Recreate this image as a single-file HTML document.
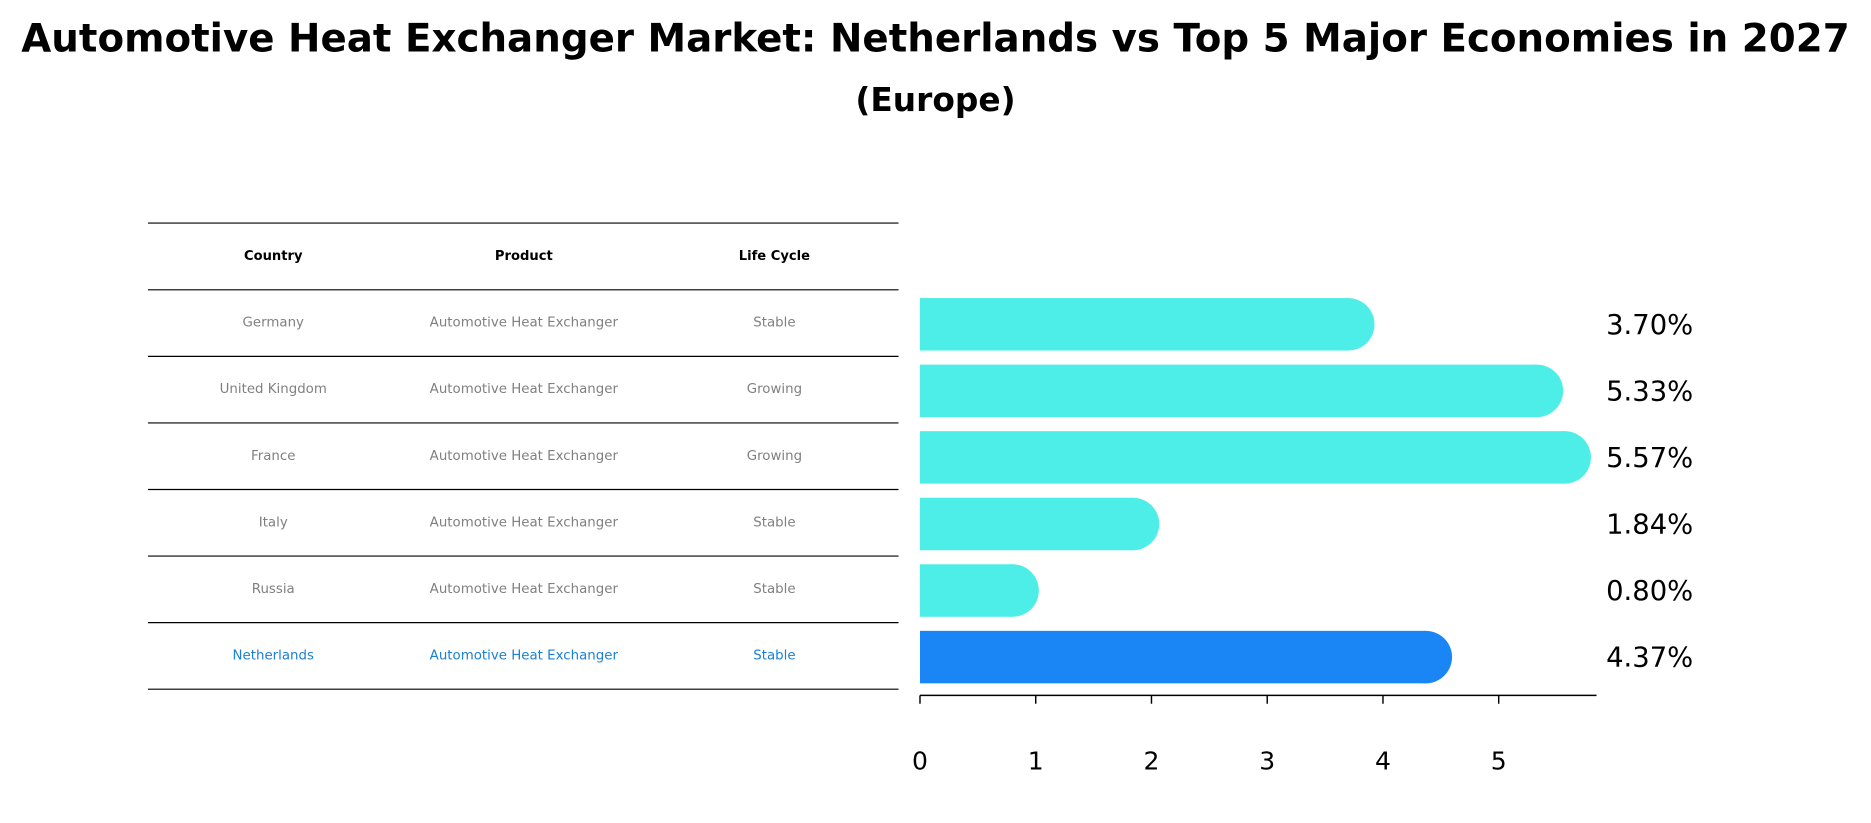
<!DOCTYPE html>
<html><head><meta charset="utf-8">
<style>html,body{margin:0;padding:0;background:#fff;}svg{display:block;font-family:"DejaVu Sans","Liberation Sans",sans-serif;}</style>
</head><body>
<svg id="chart" width="1871" height="823" viewBox="0 0 1568 690" preserveAspectRatio="none" xmlns="http://www.w3.org/2000/svg">
<rect width="1568" height="690" fill="#fff"/>
<text x="784" y="43" text-anchor="middle" font-size="32.5" font-weight="bold">Automotive Heat Exchanger Market: Netherlands vs Top 5 Major Economies in 2027</text>
<text x="784" y="93" text-anchor="middle" font-size="27.5" font-weight="bold">(Europe)</text>
<g id="table"></g>
<g id="bars"></g>
<g id="axis"></g>
</svg>
<script>
const countries = ["Germany","United Kingdom","France","Italy","Russia","Netherlands"];
const products = ["Automotive Heat Exchanger","Automotive Heat Exchanger","Automotive Heat Exchanger","Automotive Heat Exchanger","Automotive Heat Exchanger","Automotive Heat Exchanger"];
const lifeCycles = ["Stable","Growing","Growing","Stable","Stable","Stable"];
const values = [3.70,5.33,5.57,1.84,0.80,4.37];
const ticks = [0,1,2,3,4,5];

const NS = "http://www.w3.org/2000/svg";
function mk(tag, attrs, parent){const e=document.createElementNS(NS,tag);for(const k in attrs)e.setAttribute(k,attrs[k]);parent.appendChild(e);return e;}
const x0 = 771, unit = 97;
function xs(v){return x0 + v*unit;}
const rowTop = 243, rowH = 55.8;
function yc(i){return rowTop + rowH*i + rowH/2 + 1;}

// table
const tbl = document.getElementById('table');
const cols = [229,439,649];
const heads = ["Country","Product","Life Cycle"];
heads.forEach((h,j)=>{
  const t = mk('text',{x:cols[j],y:218,'text-anchor':'middle','font-size':11,'font-weight':'bold',fill:'#000'},tbl);
  
  
  t.textContent = h;
});
const lineYs = [187,243];
for(let i=0;i<countries.length;i++) lineYs.push(rowTop + rowH*(i+1));
lineYs.forEach((y,i)=>{
  const l = mk('line',{x1:124,x2:753,y1:y,y2:y,stroke:'#000','stroke-width':1},tbl);
  
  
});
countries.forEach((c,i)=>{
  const col = i===countries.length-1 ? '#1a7fd6' : '#808080';
  [c, products[i], lifeCycles[i]].forEach((txt,j)=>{
    const t = mk('text',{x:cols[j],y:yc(i)+2,'text-anchor':'middle','font-size':11.2,fill:col},tbl);
    
    
    t.textContent = txt;
  });
});

// bars
const bars = document.getElementById('bars');
const bh = 44;
values.forEach((v,i)=>{
  const color = i===values.length-1 ? '#1a86f5' : '#4deee8';
  const g = mk('g',{},bars);
  
  
  const end = xs(v);
  mk('rect',{x:x0,y:yc(i)-bh/2,width:Math.max(0,end-x0),height:bh,fill:color},g);
  mk('circle',{cx:end,cy:yc(i),r:bh/2,fill:color},g);
  const t = mk('text',{x:1346,y:yc(i)+8,'font-size':23,fill:'#000'},bars);
  
  
  t.textContent = v.toFixed(2)+'%';
});

// axis
const ax = document.getElementById('axis');
mk('line',{x1:x0,x2:1338,y1:583,y2:583,stroke:'#000','stroke-width':1.3},ax);
ticks.forEach(tv=>{
  const l = mk('line',{x1:xs(tv),x2:xs(tv),y1:583,y2:590,stroke:'#000','stroke-width':1.2},ax);
  
  
  const t = mk('text',{x:xs(tv),y:645,'text-anchor':'middle','font-size':21,fill:'#000'},ax);
  
  
  t.textContent = tv;
});
</script>
</body></html>
